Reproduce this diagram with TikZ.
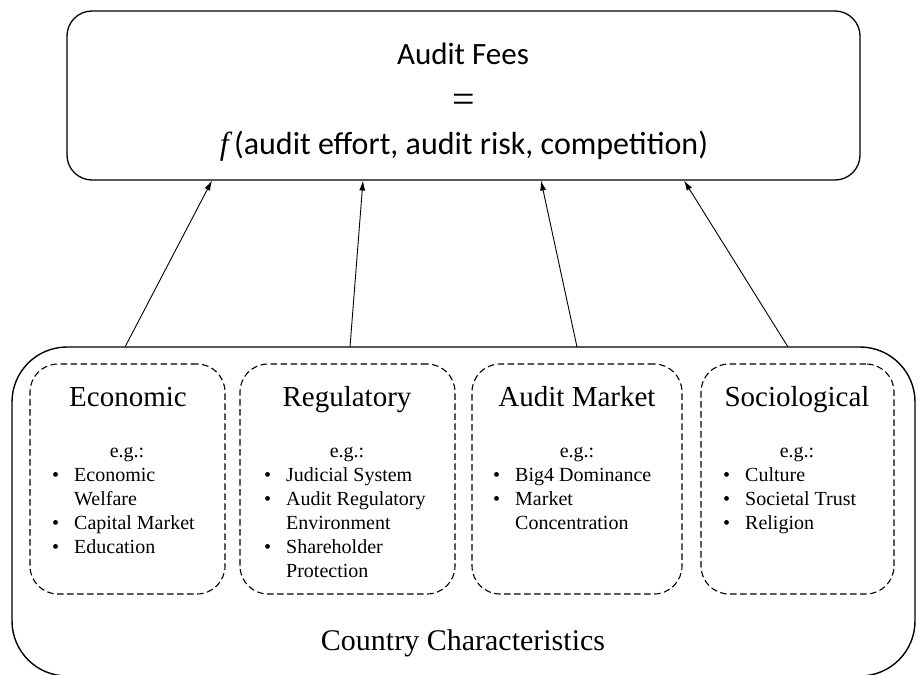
\documentclass[tikz,border=0pt]{standalone}
\usepackage{fontspec}
\setmainfont{Liberation Serif}
\newfontfamily\calib{Carlito}
\usetikzlibrary{arrows.meta}
\begin{document}
\begin{tikzpicture}[x=1pt,y=-1pt,
  topbox/.style={draw, line width=1.3pt, rounded corners=25pt, inner sep=0pt},
  outerbox/.style={draw, line width=1.4pt, rounded corners=55pt, inner sep=0pt},
  catbox/.style={draw, line width=1.1pt, dash pattern=on 6.5pt off 3.5pt, rounded corners=28pt, inner sep=0pt, minimum height=230pt},
  toptext/.style={anchor=base, inner sep=0pt, font=\calib\fontsize{31}{37}\selectfont},
  cattitle/.style={anchor=base, inner sep=0pt, font=\fontsize{29}{34}\selectfont},
  eg/.style={anchor=base, inner sep=0pt, font=\fontsize{20}{24}\selectfont},
  items/.style={anchor=base west, inner sep=0pt, font=\fontsize{20}{24}\selectfont},
  arr/.style={line width=0.9pt, -{Latex[length=10pt,width=6pt]}}
]
\useasboundingbox (0,0) rectangle (920,674);
\clip (0,0) rectangle (920,674);

% top box
\node[topbox, minimum width=793pt, minimum height=169pt] (fees) at (463.5,95.5) {};
\node[toptext] (t1) at (463,65) {Audit Fees};
\node[anchor=base, inner sep=0pt, font=\fontsize{40}{44}\selectfont] (t2) at (464,112.5) {=};
\node[toptext, font=\calib\fontsize{32}{38}\selectfont] (t3) at (464,154) {{\fontspec{Liberation Serif}\itshape f}\,(audit effort, audit risk, competition)};

% bottom box
\node[outerbox, minimum width=903pt, minimum height=329pt] (country) at (463.5,511.5) {};
\node[anchor=base, inner sep=0pt, font=\fontsize{30}{36}\selectfont] (ctitle) at (463,650) {Country Characteristics};

% category boxes
\node[catbox, minimum width=195pt] (eco) at (127.5,479) {};
\node[catbox, minimum width=215pt] (reg) at (347.5,479) {};
\node[catbox, minimum width=210pt] (aud) at (577,479) {};
\node[catbox, minimum width=193pt] (soc) at (797.5,479) {};

\node[cattitle] (ecoT) at (128,406) {Economic};
\node[cattitle] (regT) at (347,406) {Regulatory};
\node[cattitle] (audT) at (577,406) {Audit Market};
\node[cattitle] (socT) at (797,406) {Sociological};

\node[eg] (ecoE) at (127,457) {e.g.:};
\node[eg] (regE) at (347,457) {e.g.:};
\node[eg] (audE) at (577,457) {e.g.:};
\node[eg] (socE) at (797,457) {e.g.:};

\node[items] (ecoL) at (52,481) {\begin{tabular}[t]{@{}p{22pt}@{}l@{}}
\textbullet & Economic\\ & Welfare\\ \textbullet & Capital Market\\ \textbullet & Education\end{tabular}};
\node[items] (regL) at (264,481) {\begin{tabular}[t]{@{}p{22pt}@{}l@{}}
\textbullet & Judicial System\\ \textbullet & Audit Regulatory\\ & Environment\\ \textbullet & Shareholder\\ & Protection\end{tabular}};
\node[items] (audL) at (493,481) {\begin{tabular}[t]{@{}p{22pt}@{}l@{}}
\textbullet & Big4 Dominance\\ \textbullet & Market\\ & Concentration\end{tabular}};
\node[items] (socL) at (723,481) {\begin{tabular}[t]{@{}p{22pt}@{}l@{}}
\textbullet & Culture\\ \textbullet & Societal Trust\\ \textbullet & Religion\end{tabular}};

% arrows
\coordinate (s1) at (125,347); \coordinate (e1) at (212,180.5);
\coordinate (s2) at (350,347); \coordinate (e2) at (363,180.5);
\coordinate (s3) at (577,347); \coordinate (e3) at (541,180.5);
\coordinate (s4) at (788,347); \coordinate (e4) at (684,180.5);
\draw[arr] (s1) -- (e1);
\draw[arr] (s2) -- (e2);
\draw[arr] (s3) -- (e3);
\draw[arr] (s4) -- (e4);
\end{tikzpicture}
\end{document}
